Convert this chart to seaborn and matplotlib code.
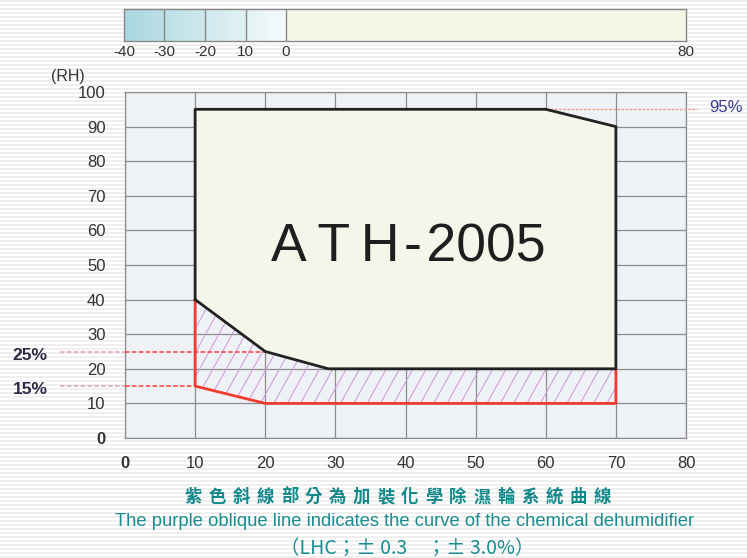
import numpy as np
import pandas as pd
import matplotlib
matplotlib.use('Agg')
import matplotlib.pyplot as plt
import seaborn as sns

# chamber working range (temperature C, humidity %RH)
chamber_temp = [10, 10, 60, 70, 70, 29, 20, 10]
chamber_rh = [40, 95, 95, 90, 20, 20, 25, 40]

# range reached with the chemical dehumidifier (lower boundary)
dehum_temp = [10, 10, 20, 70, 70]
dehum_rh = [40, 15, 10, 10, 20]

# temperature strip on top
cold_edges = [-40, -30, -20, -10, 0]
warm_edges = [0, 80]
strip_ticks = [-40, -30, -20, -10, 0, 80]
strip_labels = ['-40', '-30', '-20', '10', '0', '80']

x_ticks = [0, 10, 20, 30, 40, 50, 60, 70, 80]
y_ticks = [0, 10, 20, 30, 40, 50, 60, 70, 80, 90, 100]

model_name = 'A\u2009T\u2009H\u200a-\u200a2005'
marks = [25, 15]
top_mark = 95
note_cn = '紫色斜線部分為加裝化學除濕輪系統曲線'
note_en = 'The purple oblique line indicates the curve of the chemical dehumidifier'
note_spec = '（LHC；± 0.3　；± 3.0%）'

sns.set_theme(style='white')
plt.rcParams['font.family'] = ['Liberation Sans', 'DejaVu Sans']

W, H = 747, 558
fig = plt.figure(figsize=(W / 100, H / 100), dpi=100)
fig.patch.set_facecolor('white')


def fx(px):
    return px / W


def fy(py):
    return 1 - py / H


# striped page background
bg = fig.add_axes([0, 0, 1, 1], zorder=-5)
bg.set_xlim(0, 1)
bg.set_ylim(H, 0)
bg.hlines(np.arange(1, H, 4), 0, 1, color='#ececec', lw=1.2)
bg.axis('off')

'''Main chart'''
ax = fig.add_axes([125 / W, (H - 438) / H, 561 / W, 346 / H])
ax.set_facecolor('#eef2f6')
ax.set_xlim(0, 80)
ax.set_ylim(0, 100)
ax.set_xticks(x_ticks)
ax.set_yticks(y_ticks)
ax.grid(True, color='#8c8c8c', lw=0.9, zorder=0.5)
ax.set_axisbelow(True)
for s in ax.spines.values():
    s.set_color('#8c8c8c')
    s.set_linewidth(0.9)
ax.tick_params(axis='both', length=0, labelsize=12, labelcolor='#333333')
ax.tick_params(axis='x', pad=13)
ax.tick_params(axis='y', pad=14)
ax.set_xticklabels([str(v) for v in x_ticks])
ax.set_yticklabels([str(v) for v in y_ticks])
ax.get_xticklabels()[0].set_fontweight('bold')
ax.get_yticklabels()[0].set_fontweight('bold')

# hatched dehumidifier band: lower red boundary + lower chamber boundary
band_t = dehum_temp + chamber_temp[5:]
band_r = dehum_rh + chamber_rh[5:]
band = ax.fill(band_t, band_r, facecolor='none', edgecolor='none', zorder=1)[0]
for x0 in np.arange(-10, 76, 1.9):
    ln, = ax.plot([x0, x0 + 30], [0, 110], color='#cf9fda', lw=0.8, zorder=1)
    ln.set_clip_path(band)

# chamber area
ax.fill(chamber_temp, chamber_rh, facecolor='#f5f6e9', edgecolor='none', zorder=2)

outline = pd.DataFrame({'temp': chamber_temp, 'rh': chamber_rh})
sns.lineplot(data=outline, x='temp', y='rh', sort=False, estimator=None,
             color='#222222', lw=2, ax=ax, zorder=4)
lower = pd.DataFrame({'temp': dehum_temp, 'rh': dehum_rh})
sns.lineplot(data=lower, x='temp', y='rh', sort=False, estimator=None,
             color='#f23b30', lw=2, ax=ax, zorder=3)
ax.set_xlabel('')
ax.set_ylabel('')

ax.text(40.4, 55, model_name, ha='center', va='center',
        fontsize=38.5, color='#1e1e1e', zorder=5)

# reference dashes for 25 / 15 / 95 %RH
ends = [20, 10]
for m, e in zip(marks, ends):
    ax.plot([-9.3, 0], [m, m], color='#dca2b2', lw=1.1, ls=(0, (3, 1.5)),
            clip_on=False, zorder=3)
    ax.plot([0, e], [m, m], color='#ff3b3b', lw=1.1, ls=(0, (3, 1.5)),
            clip_on=False, zorder=3)
ax.plot([60, 81.5], [top_mark, top_mark], color='#f3a18f', lw=1.0,
        ls=(0, (2, 1)), clip_on=False, zorder=3)

fig.text(fx(30), fy(355), f'{marks[0]}%', ha='center', va='center',
         fontsize=12.5, fontweight='bold', color='#2a2a44')
fig.text(fx(30), fy(390), f'{marks[1]}%', ha='center', va='center',
         fontsize=12.5, fontweight='bold', color='#2a2a44')
fig.text(fx(726), fy(108), f'{top_mark}%', ha='center', va='center',
         fontsize=12, color='#3b3b8f')
fig.text(fx(68), fy(77), '(RH)', ha='center', va='center',
         fontsize=11.5, color='#333333')

'''Temperature strip'''
tb = fig.add_axes([124 / W, (H - 41) / H, 562 / W, 32 / H])


def fwd(x):
    x = np.asarray(x, dtype=float)
    return np.where(x < 0, 4.05 * x, 5.0 * x)


def inv(y):
    y = np.asarray(y, dtype=float)
    return np.where(y < 0, y / 4.05, y / 5.0)


tb.set_xscale('function', functions=(fwd, inv))
tb.set_xlim(-40, 80)
tb.set_ylim(0, 1)
grad = np.linspace(cold_edges[0], cold_edges[-1], 41)
cmap = sns.blend_palette(['#a9d7e0', '#f4fafb'], as_cmap=True)
tb.pcolormesh(grad, [0, 1], ((grad[:-1] + grad[1:]) / 2)[None, :], cmap=cmap,
              vmin=-40, vmax=0, shading='flat')
tb.axvspan(warm_edges[0], warm_edges[1], color='#f6f6e6', lw=0)
tb.vlines(cold_edges[1:], 0, 1, color='#888888', lw=1)
for s in tb.spines.values():
    s.set_color('#888888')
    s.set_linewidth(1)
tb.set_yticks([])
tb.set_xticks(strip_ticks)
tb.set_xticklabels(strip_labels)
tb.xaxis.set_minor_locator(matplotlib.ticker.NullLocator())
tb.tick_params(axis='x', length=0, labelsize=11, labelcolor='#333333', pad=3)

'''Notes under the chart'''
cn_font = ['Noto Sans CJK TC', 'DejaVu Sans']
n = len(note_cn)
for i, ch in enumerate(note_cn):
    fig.text(fx(193.5 + i * (602 - 193.5) / (n - 1)), fy(497), ch, ha='center',
             va='center', fontsize=12.5, fontweight='bold', color='#13888b',
             family=cn_font)
fig.text(fx(404.5), fy(521), note_en, ha='center', va='center', fontsize=13.2,
         color='#1a8d91')
fig.text(fx(407), fy(548), note_spec, ha='center', va='center', fontsize=14,
         color='#1a8d91', family=cn_font)

fig.savefig('out.png', dpi=100)
